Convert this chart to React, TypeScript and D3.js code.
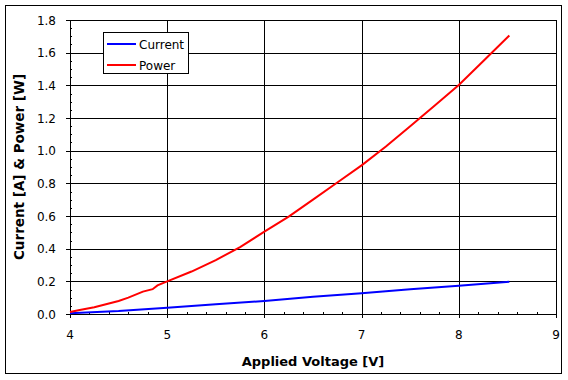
import React from "react";
import * as d3 from "d3";

const voltage = [4.0, 4.1, 4.25, 4.5, 4.6, 4.75, 4.85, 4.9, 5.0, 5.25, 5.5, 5.75, 6.0, 6.25, 6.5, 6.75, 7.0, 7.25, 7.5, 7.75, 8.0, 8.25, 8.52];
const power = [0.012, 0.025, 0.041, 0.08, 0.1, 0.137, 0.152, 0.175, 0.2, 0.26, 0.33, 0.41, 0.504, 0.596, 0.7, 0.805, 0.91, 1.025, 1.15, 1.275, 1.402, 1.547, 1.705];
const currentV = [4.0, 4.5, 5.0, 5.5, 6.0, 6.5, 7.0, 7.5, 8.0, 8.52];
const current = [0.004, 0.018, 0.039, 0.059, 0.08, 0.106, 0.127, 0.151, 0.173, 0.197];
const xTicks = [4, 5, 6, 7, 8, 9];
const yTicks = [0, 0.2, 0.4, 0.6, 0.8, 1.0, 1.2, 1.4, 1.6, 1.8];
const legendItems = [
  { label: "Current", color: "#0000ff" },
  { label: "Power", color: "#ff0000" },
];

export default function App() {
  const W = 568, H = 380;
  const L = 70, R = 556, T = 20, B = 314;
  const x = d3.scaleLinear().domain([4, 9]).range([L, R]);
  const y = d3.scaleLinear().domain([0, 1.8]).range([B, T]);
  const xMinor = d3.range(4, 9.0001, 0.2).filter((v) => Math.abs(v - Math.round(v)) > 1e-6);
  const yMinor = d3.range(0, 1.8001, 0.05).filter((v) => Math.abs(v * 5 - Math.round(v * 5)) > 1e-6);
  const line = d3.line<[number, number]>().x((d) => x(d[0])).y((d) => y(d[1]));
  const pPath = line(voltage.map((v, i) => [v, power[i]]))!;
  const cPath = line(currentV.map((v, i) => [v, current[i]]))!;
  const font = "'DejaVu Sans', Verdana, sans-serif";
  const px = (v: number) => Math.round(v) + 0.5;

  return (
    <svg width={W} height={H} style={{ position: "absolute", left: 0, top: 0, background: "#fff" }} fontFamily={font}>
      <rect x={0} y={0} width={W} height={H} fill="#fff" />
      <rect x={5.5} y={5.5} width={556} height={368} fill="none" stroke="#000" strokeWidth={1} />
      {/* grid */}
      {yTicks.map((t) => (
        <line key={"gy" + t} x1={L - 4} x2={R} y1={px(y(t))} y2={px(y(t))} stroke="#000" strokeWidth={1} />
      ))}
      {xTicks.map((t) => (
        <line key={"gx" + t} y1={T} y2={B + 4} x1={px(x(t))} x2={px(x(t))} stroke="#000" strokeWidth={1} />
      ))}
      {xMinor.map((t) => (
        <line key={"mx" + t} y1={B - 2} y2={B} x1={px(x(t))} x2={px(x(t))} stroke="#000" strokeWidth={1} />
      ))}
      {yMinor.map((t) => (
        <line key={"my" + t} x1={L} x2={L + 2} y1={px(y(t))} y2={px(y(t))} stroke="#000" strokeWidth={1} />
      ))}
      {/* tick labels */}
      {yTicks.map((t) => (
        <text key={"ly" + t} x={56} y={y(t) + 4.5} textAnchor="end" fontSize={12} fill="#000">
          {t.toFixed(1)}
        </text>
      ))}
      {xTicks.map((t) => (
        <text key={"lx" + t} x={x(t)} y={339} textAnchor="middle" fontSize={12} fill="#000">
          {t}
        </text>
      ))}
      {/* data */}
      <path d={cPath} fill="none" stroke="#0000ff" strokeWidth={2} />
      <path d={pPath} fill="none" stroke="#ff0000" strokeWidth={2} />
      {/* legend */}
      <rect x={103.5} y={32.5} width={85} height={41} fill="#fff" stroke="#000" strokeWidth={1} />
      {legendItems.map((it, i) => (
        <g key={it.label}>
          <line x1={107} x2={136} y1={44 + i * 21} y2={44 + i * 21} stroke={it.color} strokeWidth={2} />
          <text x={139} y={48.5 + i * 21} fontSize={12} fill="#000">
            {it.label}
          </text>
        </g>
      ))}
      {/* axis titles */}
      <text x={(L + R) / 2} y={366} textAnchor="middle" fontSize={13} fontWeight="bold" fill="#000">
        Applied Voltage [V]
      </text>
      <text transform={`translate(24, ${(T + B) / 2}) rotate(-90)`} textAnchor="middle" fontSize={13.5} fontWeight="bold" fill="#000">
        Current [A] &amp; Power [W]
      </text>
    </svg>
  );
}
